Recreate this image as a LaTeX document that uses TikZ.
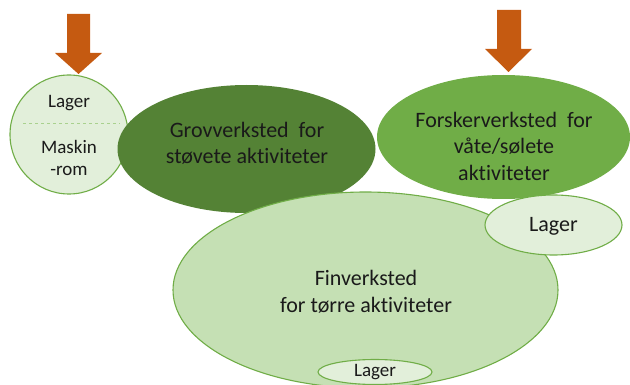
\documentclass[tikz,border=0pt]{standalone}
\usepackage{fontspec}
\setmainfont[Ligatures=NoCommon]{Carlito}
\usetikzlibrary{shapes.geometric}
\definecolor{dgreen}{HTML}{548235}
\definecolor{mgreen}{HTML}{70AD47}
\definecolor{lgreen}{HTML}{C5E0B4}
\definecolor{pgreen}{HTML}{E2EFDA}
\definecolor{dashgreen}{HTML}{A9D18E}
\definecolor{arroworange}{HTML}{C55A11}
\definecolor{txtcol}{HTML}{1A1A1A}
\begin{document}
\begin{tikzpicture}[x=1pt,y=-1pt,
  blob/.style={ellipse, inner sep=0pt, outer sep=0pt},
  rim/.style={draw=mgreen, line width=1.1pt},
  txt/.style={align=center, text=txtcol, inner sep=0pt},
  big/.style={font=\fontsize{22}{26.5}\selectfont},
  downarrow/.style={fill=arroworange}]
\useasboundingbox (0,0) rectangle (630,385);
% arrows
\fill[downarrow] (67,14) -- (90,14) -- (90,53) -- (102,53) -- (78.5,74) -- (55,53) -- (67,53) -- cycle;
\fill[downarrow] (497,10) -- (521,10) -- (521,49) -- (532,49) -- (508.5,72) -- (485,49) -- (497,49) -- cycle;
% left circle
\node[blob, rim, fill=pgreen, minimum width=118pt, minimum height=119pt] (maskin) at (69,134.5) {};
\draw[dashgreen, dashed, line width=0.8pt] (23,123.5) -- (120,123.5);
\node[txt, font=\fontsize{19}{22}\selectfont] (lagerA) at (69,103) {Lager};
\node[txt, font=\fontsize{19}{22}\selectfont, anchor=base] (maskintxt) at (69,153.5) {Maskin};
\node[txt, font=\fontsize{19}{22}\selectfont, anchor=base] (romtxt) at (69,176) {-rom};
% Grovverksted
\node[blob, fill=dgreen, minimum width=258pt, minimum height=128pt] (grov) at (246.5,149) {};
\node[txt, big] (grovtxt) at (247,143.5) {Grovverksted\ \ for\\støvete aktiviteter};
% Forskerverksted
\node[blob, fill=mgreen, minimum width=253pt, minimum height=124pt] (forsker) at (503.5,137) {};
\node[txt, big] (forskertxt) at (504,146) {Forskerverksted\ \ for\\våte/sølete\\aktiviteter};
% Finverksted
\node[blob, rim, fill=lgreen, minimum width=385pt, minimum height=196pt] (fin) at (365.5,290) {};
\node[txt, big] (fintxt) at (366,292) {Finverksted\\for tørre aktiviteter};
% Lager (right)
\node[blob, rim, fill=pgreen, minimum width=137pt, minimum height=60pt] (lagerB) at (553.5,225) {};
\node[txt, font=\fontsize{22}{26}\selectfont] (lagerBtxt) at (553.5,226) {Lager};
% Lager (bottom)
\node[blob, rim, fill=pgreen, minimum width=114pt, minimum height=25pt] (lagerC) at (375,372) {};
\node[txt, font=\fontsize{19}{22}\selectfont] (lagerCtxt) at (375,372) {Lager};
\end{tikzpicture}
\end{document}
